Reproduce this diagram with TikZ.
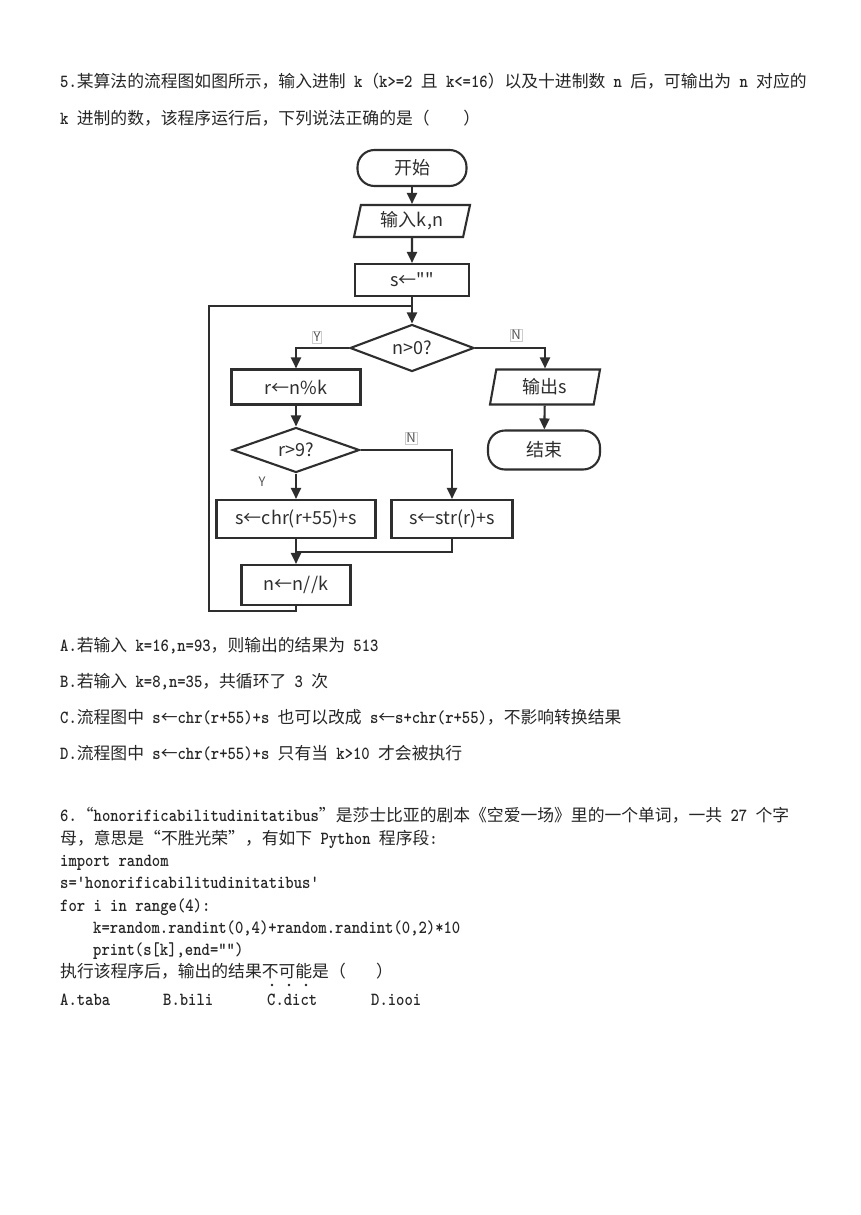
\documentclass[tikz,border=0pt]{standalone}
\usepackage{fontspec}
\setmainfont{Noto Sans CJK SC}
\newfontfamily\flowfont{Noto Sans CJK SC}[Ligatures=TeXOff]
\newfontfamily\enfont{lmmonolt10-bold.otf}[FakeStretch=0.86,Scale=1.1]
\newcommand\en[1]{{\enfont #1}}
\usetikzlibrary{shapes.geometric,arrows.meta}
\definecolor{ink}{HTML}{2E2E2E}
\tikzset{txt/.style={anchor=base west,inner sep=0pt,text=black!85,font=\fontsize{16.8}{20}\selectfont}}
\tikzset{blk/.style={draw=ink,line width=2.1pt,text=ink,font=\flowfont\fontsize{18}{21}\selectfont,inner sep=2pt}}
\tikzset{term/.style={blk,rectangle,rounded corners=17pt}}
\tikzset{proc/.style={blk,rectangle}}
\tikzset{io/.style={blk,trapezium,trapezium left angle=73,trapezium right angle=107,trapezium stretches body}}
\tikzset{dec/.style={blk,diamond,aspect=2.6,inner sep=0pt}}
\tikzset{lbl/.style={draw=gray!40,inner sep=1pt,text=ink!80,font=\fontsize{13}{15}\selectfont}}
\tikzset{arr/.style={draw=ink,line width=2.1pt,-{Triangle[length=11pt,width=10pt]}}}
\tikzset{wire/.style={draw=ink,line width=2.1pt}}

\begin{document}
\begin{tikzpicture}[x=1pt,y=-1pt]
\useasboundingbox[fill=white] (0,0) rectangle (860,1215);
% question 5
\node[txt] (head1) at (60,88) {\en{5.}某算法的流程图如图所示，输入进制\en{ k}（\en{k>=2 }且\en{ k<=16}）以及十进制数\en{ n }后，可输出为\en{ n }对应的};
\node[txt] (head2) at (60,124) {\en{k }进制的数，该程序运行后，下列说法正确的是（\hspace{2em}）};
% flowchart
\node[term,minimum width=109pt,minimum height=36pt] (start) at (412,168) {开始};
\node[io,minimum width=116pt,minimum height=32pt] (input) at (412,221) {输入k,n};
\node[proc,minimum width=114pt,minimum height=32pt] (init) at (412,280) {s←""};
\node[dec,minimum width=124pt,minimum height=47pt] (cond) at (412,348) {n>0?};
\node[proc,minimum width=129pt,minimum height=35pt] (calc) at (296,387) {r←n\%k};
\node[io,minimum width=110pt,minimum height=35pt] (output) at (545,387) {输出s};
\node[term,minimum width=112pt,minimum height=39pt] (stop) at (544,450) {结束};
\node[dec,minimum width=127pt,minimum height=45pt] (test) at (296,450) {r>9?};
\node[proc,minimum width=159pt,minimum height=38pt] (big) at (296,519) {s←chr(r+55)+s};
\node[proc,minimum width=121pt,minimum height=38pt] (small) at (452,519) {s←str(r)+s};
\node[proc,minimum width=109pt,minimum height=40pt] (update) at (296,585) {n←n//k};
\node[lbl] (yes1) at (317,337) {Y};
\node[lbl] (no1) at (516,335) {N};
\node[lbl] (no2) at (411,438) {N};
\node[lbl,draw=none] (yes2) at (262,482) {Y};
\draw[arr] (start) -- (input);
\draw[arr] (input) -- (init);
\draw[arr] (init) -- (cond);
\draw[arr] (cond.west) -| (calc.north);
\draw[arr] (cond.east) -| (output.north);
\draw[arr] (output) -- (stop);
\draw[arr] (calc) -- (test);
\draw[arr] (test) -- (big);
\draw[arr] (test.east) -| (small.north);
\draw[arr] (big) -- (update);
\coordinate (join) at (296,552);
\draw[wire] (small.south) |- (join);
\coordinate (back) at (209,611);
\coordinate (top) at (412,306);
\draw[wire] (update.south) |- (back) |- (top);
% options
\node[txt] (optA) at (60,651) {\en{A.}若输入\en{ k=16,n=93}，则输出的结果为\en{ 513}};
\node[txt] (optB) at (60,687) {\en{B.}若输入\en{ k=8,n=35}，共循环了\en{ 3 }次};
\node[txt] (optC) at (60,723) {\en{C.}流程图中\en{ s}←\en{chr(r+55)+s }也可以改成\en{ s}←\en{s+chr(r+55)}，不影响转换结果};
\node[txt] (optD) at (60,759) {\en{D.}流程图中\en{ s}←\en{chr(r+55)+s }只有当\en{ k>10 }才会被执行};
% question 6
\node[txt] (q6a) at (60,821) {\en{6.}“\en{honorificabilitudinitatibus}”是莎士比亚的剧本《空爱一场》里的一个单词，一共\en{ 27 }个字};
\node[txt] (q6b) at (60,844) {母，意思是“不胜光荣”，有如下\en{ Python }程序段\en{:}};
\node[txt] (code1) at (60,866) {\en{import random}};
\node[txt] (code2) at (60,888) {\en{s='honorificabilitudinitatibus'}};
\node[txt] (code3) at (60,911) {\en{for i in range(4):}};
\node[txt] (code4) at (93,933) {\en{k=random.randint(0,4)+random.randint(0,2)*10}};
\node[txt] (code5) at (93,955) {\en{print(s[k],end="")}};
\node[txt] (ask) at (60,977) {执行该程序后，输出的结果不可能是（\hspace{1.8em}）};
\foreach \x in {272,289,306} \fill[black!85] (\x,985) circle (1.3pt);
\node[txt] (ansA) at (60,1005) {\en{A.taba}};
\node[txt] (ansB) at (163,1005) {\en{B.bili}};
\node[txt] (ansC) at (267,1005) {\en{C.dict}};
\node[txt] (ansD) at (371,1005) {\en{D.iooi}};
\end{tikzpicture}
\end{document}
